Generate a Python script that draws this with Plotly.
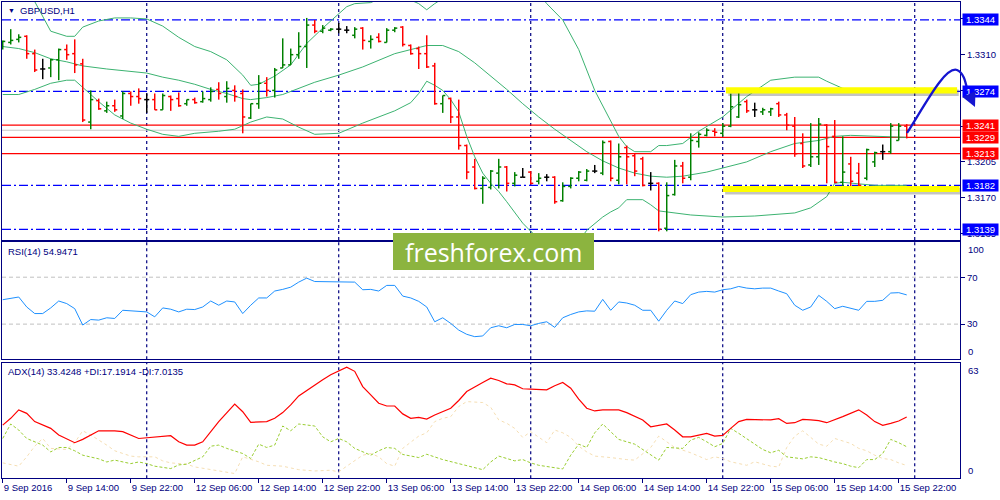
import plotly.graph_objects as go

# ---------------- data ----------------
opens = [
1.3318,1.3322,1.3325,1.3328,1.3311,1.3296,1.3297,1.3305,1.3315,1.3311,
1.3301,1.3244,1.3265,1.3255,1.3260,1.3250,1.3272,1.3269,1.3266,1.3266,
1.3256,1.3269,1.3267,1.3262,1.3266,1.3264,1.3266,1.3276,1.3269,1.3275,
1.3272,1.3248,1.3262,1.3282,1.3275,1.3297,1.3300,1.3310,1.3318,1.3339,
1.3333,1.3334,1.3335,1.3334,1.3329,1.3336,1.3323,1.3327,1.3322,1.3334,
1.3337,1.3319,1.3316,1.3311,1.3299,1.3262,1.3267,1.3249,1.3221,1.3200,
1.3179,1.3180,1.3194,1.3200,1.3184,1.3190,1.3195,1.3186,1.3190,1.3190,
1.3167,1.3181,1.3189,1.3187,1.3196,1.3194,1.3225,1.3187,1.3219,1.3211,
1.3208,1.3184,1.3184,1.3140,1.3173,1.3201,1.3190,1.3225,1.3231,1.3235,
1.3233,1.3240,1.3249,1.3264,1.3256,1.3254,1.3254,1.3262,1.3251,1.3240,
1.3223,1.3202,1.3210,1.3241,1.3230,1.3185,1.3203,1.3194,1.3189,1.3205,
1.3215,1.3215,1.3226,1.3240]
highs = [
1.3324,1.3335,1.3330,1.3329,1.3315,1.3306,1.3306,1.3316,1.3320,1.3325,
1.3306,1.3275,1.3267,1.3264,1.3266,1.3274,1.3274,1.3277,1.3272,1.3272,
1.3272,1.3270,1.3273,1.3266,1.3268,1.3274,1.3278,1.3283,1.3284,1.3280,
1.3276,1.3262,1.3290,1.3288,1.3297,1.3326,1.3316,1.3332,1.3346,1.3344,
1.3339,1.3336,1.3341,1.3338,1.3337,1.3337,1.3329,1.3331,1.3336,1.3337,
1.3338,1.3320,1.3318,1.3329,1.3302,1.3270,1.3268,1.3266,1.3222,1.3208,
1.3191,1.3197,1.3208,1.3201,1.3195,1.3199,1.3196,1.3194,1.3193,1.3191,
1.3185,1.3190,1.3196,1.3198,1.3202,1.3226,1.3226,1.3223,1.3221,1.3213,
1.3210,1.3195,1.3185,1.3185,1.3207,1.3205,1.3233,1.3234,1.3238,1.3238,
1.3243,1.3272,1.3276,1.3266,1.3263,1.3258,1.3258,1.3264,1.3253,1.3249,
1.3233,1.3243,1.3248,1.3242,1.3246,1.3230,1.3210,1.3204,1.3218,1.3215,
1.3222,1.3243,1.3243,1.3242]
lows = [
1.3315,1.3320,1.3322,1.3306,1.3293,1.3286,1.3288,1.3285,1.3305,1.3292,
1.3244,1.3237,1.3256,1.3253,1.3254,1.3247,1.3260,1.3262,1.3253,1.3256,
1.3256,1.3255,1.3259,1.3260,1.3262,1.3263,1.3264,1.3266,1.3263,1.3264,
1.3233,1.3247,1.3257,1.3269,1.3268,1.3297,1.3300,1.3306,1.3297,1.3331,
1.3331,1.3333,1.3331,1.3331,1.3326,1.3315,1.3316,1.3322,1.3322,1.3332,
1.3318,1.3310,1.3296,1.3297,1.3261,1.3253,1.3243,1.3217,1.3188,1.3178,
1.3164,1.3178,1.3179,1.3176,1.3181,1.3190,1.3183,1.3183,1.3186,1.3164,
1.3166,1.3179,1.3186,1.3186,1.3194,1.3192,1.3186,1.3183,1.3183,1.3191,
1.3181,1.3177,1.3137,1.3137,1.3172,1.3184,1.3187,1.3219,1.3230,1.3230,
1.3230,1.3239,1.3248,1.3253,1.3249,1.3251,1.3250,1.3249,1.3236,1.3210,
1.3199,1.3200,1.3202,1.3184,1.3184,1.3181,1.3177,1.3181,1.3187,1.3200,
1.3207,1.3213,1.3226,1.3228]
closes = [
1.3323,1.3324,1.3327,1.3311,1.3295,1.3296,1.3305,1.3315,1.3310,1.3300,
1.3246,1.3266,1.3257,1.3260,1.3256,1.3272,1.3269,1.3267,1.3266,1.3256,
1.3270,1.3266,1.3260,1.3266,1.3263,1.3267,1.3274,1.3272,1.3277,1.3269,
1.3249,1.3262,1.3282,1.3275,1.3295,1.3300,1.3310,1.3318,1.3339,1.3333,
1.3336,1.3335,1.3335,1.3334,1.3335,1.3324,1.3325,1.3323,1.3334,1.3336,
1.3320,1.3311,1.3311,1.3298,1.3262,1.3270,1.3249,1.3221,1.3195,1.3179,
1.3189,1.3196,1.3200,1.3184,1.3192,1.3190,1.3184,1.3189,1.3190,1.3166,
1.3181,1.3189,1.3195,1.3196,1.3196,1.3224,1.3189,1.3210,1.3210,1.3196,
1.3182,1.3184,1.3139,1.3172,1.3201,1.3189,1.3226,1.3232,1.3236,1.3234,
1.3240,1.3259,1.3261,1.3255,1.3256,1.3256,1.3257,1.3251,1.3241,1.3213,
1.3201,1.3210,1.3242,1.3220,1.3185,1.3195,1.3186,1.3182,1.3217,1.3214,
1.3215,1.3240,1.3240,1.3236]

bb_upper_bars = [0,2,4,6,8,9,10,12,14,16,18,20,22,24,26,28,30,31,32,34,36,38,40,42,43,44,46,48,50,52,
                 53,54,56,58,60,63,65,67,68,70,72,74,76,77,78,79,81,82,83,85,87,90,93,96,99,102,103,105,108,113]
bb_upper = [1.3416,1.3388,1.3362,1.3333,1.3328,1.3328,1.3337,1.3343,1.3346,1.3346,
            1.3345,1.3338,1.3327,1.3318,1.3313,1.3305,1.3290,1.3280,1.3281,1.3289,
            1.3300,1.3321,1.3336,1.3350,1.3357,1.3360,1.3361,1.3368,1.3367,1.3360,
            1.3354,1.3360,1.3370,1.3383,1.3396,1.3396,1.3386,1.3370,1.3360,1.3344,
            1.3315,1.3275,1.3246,1.3230,1.3220,1.3215,1.3215,1.3221,1.3221,1.3223,
            1.3235,1.3249,1.3269,1.3285,1.3288,1.3288,1.3284,1.3277,1.3275,1.3275]
bb_mid_bars = [0,2,4,6,8,10,13,16,18,20,22,24,26,28,30,31,33,35,37,39,42,45,49,53,55,57,59,61,63,65,
               67,69,71,73,75,77,79,81,83,85,88,90,93,96,99,102,104,106,110,113]
bb_mid = [1.3318,1.3316,1.3312,1.3306,1.3303,1.3299,1.3296,1.3294,1.3292,1.3288,
          1.3285,1.3281,1.3276,1.3272,1.3267,1.3266,1.3268,1.3271,1.3277,1.3283,
          1.3290,1.3298,1.3311,1.3319,1.3319,1.3313,1.3302,1.3289,1.3276,1.3262,
          1.3249,1.3237,1.3226,1.3215,1.3206,1.3199,1.3194,1.3191,1.3190,1.3191,
          1.3195,1.3199,1.3205,1.3215,1.3223,1.3226,1.3230,1.3231,1.3230,1.3229]
bb_lower_bars = [0,2,4,6,8,9,10,12,14,16,18,20,22,24,27,29,31,33,35,37,39,42,45,49,51,52,53,54,55,56,
                 57,58,59,60,61,62,63,64,65,66,67,68,70,72,73,75,76,77,78,80,81,82,83,86,90,94,99,101,103,104,
                 105,109,113]
bb_lower = [1.3271,1.3271,1.3276,1.3282,1.3285,1.3285,1.3278,1.3264,1.3251,1.3243,
            1.3237,1.3232,1.3230,1.3233,1.3235,1.3237,1.3244,1.3249,1.3247,1.3239,
            1.3232,1.3233,1.3243,1.3255,1.3263,1.3272,1.3284,1.3280,1.3275,1.3266,
            1.3254,1.3230,1.3210,1.3194,1.3184,1.3176,1.3166,1.3155,1.3145,1.3137,
            1.3130,1.3125,1.3122,1.3127,1.3138,1.3151,1.3156,1.3160,1.3168,1.3168,
            1.3163,1.3157,1.3156,1.3153,1.3151,1.3152,1.3155,1.3160,1.3171,1.3184,
            1.3185,1.3182,1.3182]

rsi_bars = [0,1,2,3,4,5,6,7,8,9,10,11,12,13,14,15,16,18,19,20,21,22,23,24,25,26,27,28,29,30,31,32,33,34,35,36,
            37,38,39,40,42,44,45,46,47,48,49,50,51,52,53,54,55,56,57,58,59,60,61,62,63,64,65,66,67,68,69,70,71,
            72,73,74,75,76,77,78,79,80,81,82,83,84,85,86,87,88,89,90,91,92,93,94,95,96,97,98,99,100,101,102,103,
            104,105,106,107,108,109,110,111,112,113]
rsi_vals = [50.8,51.7,53.1,44.6,39.0,39.0,43.8,49.7,47.5,43.2,
            29.2,33.9,33.4,35.4,34.8,41.8,41.5,
            40.4,36.2,43.8,42.7,40.4,42.7,42.4,44.6,49.7,46.1,
            49.7,48.9,39.0,46.1,52.3,52.3,58.2,59.6,61.5,65.8,
            69.2,66.3,66.3,
            66.3,
            65.8,59.3,59.6,58.2,63.0,63.0,53.9,52.3,49.4,44.6,
            32.0,35.4,30.6,24.9,21.3,19.3,19.9,26.9,28.6,26.9,
            29.7,29.7,28.6,30.6,32.0,27.2,35.4,38.2,40.4,41.3,
            41.0,51.1,41.8,48.9,48.0,46.1,41.8,41.8,32.5,41.8,
            49.7,47.5,55.1,57.3,57.9,57.3,59.3,60.1,62.1,60.7,
            60.1,60.7,60.7,58.2,55.9,46.1,41.8,44.6,54.5,49.4,
            43.2,45.2,43.2,41.8,49.4,49.4,50.3,56.5,56.8,54.9]

adx_bars = [0,1,2,3,4,6,7,9,10,11,12,14,15,17,19,21,22,23,24,25,27,29,30,31,33,34,35,36,37,39,
            40,41,42,43,44,45,46,47,48,49,50,51,52,53,54,56,57,58,60,61,62,63,64,65,66,67,68,69,70,71,
            72,73,74,75,77,78,80,81,82,83,84,85,86,87,88,89,90,91,92,93,95,96,97,98,99,100,101,102,103,104,
            105,107,108,109,110,111,112,113]
adx_vals = [29.0,32.7,37.3,35.4,30.9,27.2,23.6,19.4,21.2,23.6,25.9,25.9,25.4,21.7,22.3,23.2,19.9,18.1,18.1,19.9,
            30.9,40.4,36.3,30.5,30.9,32.7,35.8,40.0,44.9,50.9,53.7,56.4,58.3,60.6,58.3,50.0,45.5,40.9,39.4,39.4,
            35.1,32.7,33.2,32.3,34.5,38.2,42.4,47.3,52.2,54.6,53.3,51.5,50.9,48.8,48.6,48.2,48.2,50.4,52.2,49.1,
            43.1,38.2,36.7,37.3,37.3,35.8,31.8,28.1,29.0,29.6,26.3,22.6,22.6,23.6,24.5,23.0,23.4,27.2,30.9,32.1,
            31.8,31.8,32.5,29.9,30.3,32.1,31.8,31.4,30.3,31.8,33.6,37.3,34.5,30.9,28.9,29.9,31.2,33.4]
plus_di_bars = [0,1,2,3,5,6,7,8,9,10,12,13,14,16,17,18,19,21,22,23,25,26,27,28,30,31,32,33,34,35,
                36,37,39,40,41,42,43,44,46,47,48,49,50,52,53,54,55,57,59,60,61,62,63,64,65,66,67,69,70,71,
                72,73,74,75,76,77,79,80,81,82,83,85,86,87,88,89,90,91,92,94,95,96,97,98,100,101,102,104,105,106,
                107,108,109,110,111,112,113]
plus_di_vals = [21.7,29.6,26.3,21.7,18.1,14.4,16.8,16.8,15.0,12.6,10.6,8.9,9.9,8.0,8.9,8.0,6.6,5.3,7.3,7.7,
                11.7,17.5,18.1,16.3,13.5,10.8,18.6,16.8,18.1,28.5,25.9,29.6,28.5,22.6,19.9,21.7,19.9,16.3,12.6,15.0,
                16.8,16.3,13.0,11.3,13.1,11.7,10.2,8.0,5.8,4.7,8.9,12.1,10.8,9.5,10.2,8.4,7.1,5.8,5.1,12.6,
                18.6,16.8,24.8,29.6,25.4,21.2,18.6,15.7,13.0,9.9,16.8,16.3,20.8,22.3,19.9,17.2,19.0,27.2,24.5,18.6,
                15.7,13.9,15.3,11.7,10.6,11.7,11.3,8.9,8.0,6.6,5.8,10.2,10.2,13.5,21.2,19.4,17.2]
minus_di_bars = [0,1,2,3,4,5,6,8,9,10,11,13,14,16,17,19,20,21,23,24,26,27,29,30,32,33,35,37,39,41,
                 42,43,45,46,47,48,49,50,52,53,54,55,56,57,58,60,61,62,63,64,65,66,67,68,69,70,71,72,73,74,
                 76,77,78,79,80,81,82,83,84,86,87,88,89,90,91,93,94,96,97,98,99,100,101,102,103,104,106,107,108,109,
                 110,111,112,113]
minus_di_vals = [8.4,7.7,6.6,11.7,17.5,21.7,16.3,15.7,19.4,25.9,23.6,18.1,15.0,12.1,11.7,11.7,9.5,8.4,7.7,6.2,
                 4.7,4.0,2.6,11.7,9.0,7.1,6.6,4.7,4.0,4.4,3.5,6.6,12.6,13.5,11.7,8.0,6.6,16.3,23.0,24.8,
                 30.9,32.7,33.6,39.1,41.8,41.3,38.7,31.8,30.0,27.2,22.3,25.4,22.6,19.4,26.3,24.8,22.3,17.5,14.4,12.1,
                 11.3,10.6,10.2,9.9,13.1,16.8,23.0,19.9,16.8,13.9,12.1,10.2,11.7,10.8,9.0,7.1,9.0,6.6,6.2,16.8,
                 23.0,25.9,22.3,18.6,17.5,21.7,19.0,16.3,15.0,12.6,10.8,10.2,8.4,7.0]

time_tick_bars = [0, 8, 16, 24, 32, 40, 48, 56, 64, 72, 80, 88, 96, 104, 112]
time_tick_labels = ["9 Sep 2016", "9 Sep 14:00", "9 Sep 22:00", "12 Sep 06:00", "12 Sep 14:00",
                    "12 Sep 22:00", "13 Sep 06:00", "13 Sep 14:00", "13 Sep 22:00", "14 Sep 06:00",
                    "14 Sep 14:00", "14 Sep 22:00", "15 Sep 06:00", "15 Sep 14:00", "15 Sep 22:00"]
day_separator_bars = [18, 42, 66, 90, 114]
price_ticks = [1.3135, 1.3170, 1.3205, 1.3240, 1.3275, 1.3310, 1.3345]
level_prices = [1.3344, 1.3274, 1.3241, 1.3229, 1.3213, 1.3182, 1.3139]
level_kinds = ["support", "support", "pivot", "pivot", "pivot", "support", "support"]
bid_price = 1.3236
rsi_levels = [30, 70]
zones = [(90.4, 119.3, 1.3272, 1.3278), (90.0, 119.6, 1.31755, 1.31815)]
rsi_label = "RSI(14) 54.9471"
adx_label = "ADX(14) 33.4248 +DI:17.1914 -DI:7.0135"
symbol_label = "GBPUSD,H1"

# ---------------- styling ----------------
NAVY = "#000080"
FONT = "Liberation Sans, Arial, sans-serif"
UP, DOWN, DOJI = "#008000", "#FF0000", "#000000"
BB = "#3CB371"
XR = [-0.09, 119.66]
XD = [0.002, 0.960]
TICK = 0.32

fig = go.Figure()

def bar_segments(idx):
    xs, ys = [], []
    for i in idx:
        xs += [i, i, None, i - TICK, i, None, i, i + TICK, None]
        ys += [lows[i], highs[i], None, opens[i], opens[i], None, closes[i], closes[i], None]
    return xs, ys

n = len(opens)
groups = [
    ([i for i in range(n) if closes[i] > opens[i]], UP),
    ([i for i in range(n) if closes[i] < opens[i]], DOWN),
    ([i for i in range(n) if closes[i] == opens[i]], DOJI),
]

for bx, by in [(bb_upper_bars, bb_upper), (bb_mid_bars, bb_mid), (bb_lower_bars, bb_lower)]:
    fig.add_trace(go.Scatter(x=bx, y=by, mode="lines", line=dict(color=BB, width=1),
                             xaxis="x", yaxis="y", hoverinfo="skip"))
for idx, col in groups:
    xs, ys = bar_segments(idx)
    fig.add_trace(go.Scatter(x=xs, y=ys, mode="lines", line=dict(color=col, width=1.5),
                             xaxis="x", yaxis="y", hoverinfo="skip", connectgaps=False))

fig.add_trace(go.Scatter(x=rsi_bars, y=rsi_vals, mode="lines", line=dict(color="#1E90FF", width=1),
                         xaxis="x2", yaxis="y2", hoverinfo="skip"))

fig.add_trace(go.Scatter(x=minus_di_bars, y=minus_di_vals, mode="lines",
                         line=dict(color="#F5DEB3", width=1, dash="dot"), xaxis="x3", yaxis="y3"))
fig.add_trace(go.Scatter(x=plus_di_bars, y=plus_di_vals, mode="lines",
                         line=dict(color="#9ACD32", width=1, dash="3px,2px"), xaxis="x3", yaxis="y3"))
fig.add_trace(go.Scatter(x=adx_bars, y=adx_vals, mode="lines",
                         line=dict(color="#FF0000", width=1.2), xaxis="x3", yaxis="y3"))

shapes = []
for b in day_separator_bars:
    for yr in ["y domain", "y2 domain", "y3 domain"]:
        shapes.append(dict(type="line", xref="x", yref=yr, x0=b, x1=b, y0=0, y1=1,
                           line=dict(color=NAVY, width=1.2, dash="3px,3px"), layer="below"))
shapes.append(dict(type="line", xref="x domain", yref="y", x0=0, x1=1, y0=bid_price, y1=bid_price,
                   line=dict(color="#C8C8C8", width=1), layer="below"))
for p, k in zip(level_prices, level_kinds):
    if k == "support":
        ln = dict(color="#0000FF", width=1.3, dash="9px,3px,2px,3px")
    else:
        ln = dict(color="#FF0000", width=1.2)
    shapes.append(dict(type="line", xref="x domain", yref="y", x0=0, x1=1, y0=p, y1=p, line=ln, layer="below"))
for lv in rsi_levels:
    shapes.append(dict(type="line", xref="x2 domain", yref="y2", x0=0, x1=1, y0=lv, y1=lv,
                       line=dict(color="#C0C0C0", width=1, dash="4px,3px"), layer="below"))
for x0, x1, y0, y1 in zones:
    shapes.append(dict(type="rect", xref="x", yref="y", x0=x0 + 0.3, x1=x1 + 0.2, y0=y0 - 0.00025, y1=y1 - 0.0002,
                       fillcolor="rgba(60,60,60,0.30)", line=dict(width=0), layer="above"))
    shapes.append(dict(type="rect", xref="x", yref="y", x0=x0, x1=x1, y0=y0, y1=y1,
                       fillcolor="#FFFF00", line=dict(width=0), layer="above"))
shapes.append(dict(type="rect", xref="paper", yref="paper", x0=0.393, x1=0.594, y0=0.460, y1=0.534,
                   fillcolor="#8CB43F", line=dict(width=0), layer="above"))
shapes.append(dict(type="path", xref="paper", yref="paper",
                   path="M 0.907,0.734 C 0.925,0.790 0.945,0.868 0.957,0.860 C 0.966,0.852 0.966,0.824 0.969,0.808",
                   line=dict(color="#1515D0", width=2.3), layer="above"))

ann = []
txt = dict(family=FONT, size=9.5, color=NAVY)
ann.append(dict(x=0.006, y=0.980, xref="paper", yref="paper", text="▼", showarrow=False,
                xanchor="left", yanchor="middle", font=dict(family=FONT, size=7, color=NAVY)))
ann.append(dict(x=0.018, y=0.980, xref="paper", yref="paper", text=symbol_label, showarrow=False,
                xanchor="left", yanchor="middle", font=txt))
ann.append(dict(x=0.006, y=0.498, xref="paper", yref="paper", text=rsi_label, showarrow=False,
                xanchor="left", yanchor="middle", font=txt))
ann.append(dict(x=0.006, y=0.257, xref="paper", yref="paper", text=adx_label, showarrow=False,
                xanchor="left", yanchor="middle", font=txt))
for p, k in zip(level_prices, level_kinds):
    ann.append(dict(x=0.9615, y=p, xref="paper", yref="y", text=f"{p:.4f}", showarrow=False,
                    xanchor="left", yanchor="middle", bgcolor="#0000FF" if k == "support" else "#FF0000",
                    width=35, height=11, borderpad=0, align="center",
                    font=dict(family=FONT, size=9.5, color="white")))
for v, ya in [(100, "top"), (0, "bottom")]:
    ann.append(dict(x=0.9655, y=v, xref="paper", yref="y2", text=str(v), showarrow=False,
                    xanchor="left", yanchor=ya, font=txt))
for v, ya in [(63, "top"), (0, "bottom")]:
    ann.append(dict(x=0.9655, y=v, xref="paper", yref="y3", text=str(v), showarrow=False,
                    xanchor="left", yanchor=ya, font=txt))
ann.append(dict(x=0.4935, y=0.497, xref="paper", yref="paper", text="freshforex.com", showarrow=False,
                xanchor="center", yanchor="middle", font=dict(family="Open Sans", size=25, color="white")))
ann.append(dict(x=0.975, y=0.786, xref="paper", yref="paper", text="", showarrow=True,
                ax=-6, ay=-13, arrowhead=2, arrowsize=1.3, arrowwidth=2.2, arrowcolor="#1515D0"))

ax_common = dict(showgrid=False, zeroline=False, showline=True, mirror=True, linecolor=NAVY,
                 linewidth=1, automargin=False)
fig.update_layout(
    width=1000, height=500, margin=dict(l=0, r=0, t=0, b=0, autoexpand=False),
    paper_bgcolor="white", plot_bgcolor="white", showlegend=False, hovermode=False,
    xaxis=dict(domain=XD, range=XR, anchor="y", showticklabels=False, ticks="", **ax_common),
    yaxis=dict(domain=[0.520, 0.996], range=[1.31285, 1.33616], anchor="x", side="right",
               tickvals=price_ticks, ticktext=[f"{v:.4f}" for v in price_ticks],
               ticks="outside", ticklen=4, tickcolor=NAVY, tickfont=txt, **ax_common),
    xaxis2=dict(domain=XD, range=XR, anchor="y2", showticklabels=False, ticks="", **ax_common),
    yaxis2=dict(domain=[0.2814, 0.516], range=[0, 100], anchor="x2", side="right",
                tickvals=rsi_levels, ticktext=[str(v) for v in rsi_levels],
                ticks="outside", ticklen=4, tickcolor=NAVY, tickfont=txt, **ax_common),
    xaxis3=dict(domain=XD, range=XR, anchor="y3", tickvals=time_tick_bars, ticktext=time_tick_labels,
                ticks="outside", ticklen=4, tickcolor=NAVY, ticklabelposition="outside right",
                tickangle=0, tickfont=txt, **ax_common),
    yaxis3=dict(domain=[0.0434, 0.2746], range=[0, 63], anchor="x3", side="right",
                tickvals=[], ticks="", **ax_common),
    shapes=shapes, annotations=ann,
)

fig.write_html("out.html", config={"displayModeBar": False, "staticPlot": True},
               post_script="document.body.style.margin='0';document.body.style.padding='0';"
                           "document.body.style.overflow='hidden';")
